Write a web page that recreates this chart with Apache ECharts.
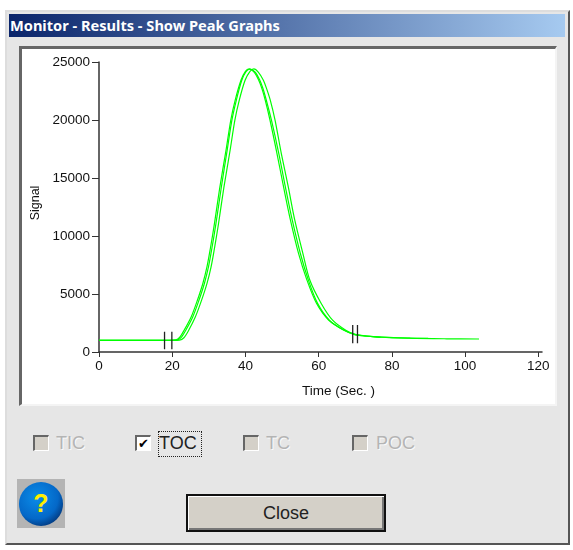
<!DOCTYPE html>
<html>
<head>
<meta charset="utf-8">
<style>
  html, body { margin: 0; padding: 0; background: #fff; }
  body { width: 573px; height: 550px; position: relative; overflow: hidden; font-family: "Liberation Sans", Arial, sans-serif; }
  .abs { position: absolute; box-sizing: border-box; }
  #dialog { left: 5px; top: 10px; width: 565px; height: 535px; background: #e6e6e6; border-top: 2px solid #ddd; border-left: 2px solid #ddd; border-right: 2px solid #555; border-bottom: 2px solid #555; }
  #titlebar { left: 9px; top: 14px; width: 556px; height: 23px; background: linear-gradient(to right, #0a246a, #a6caf0); color: #fff; font: bold 14.6px/23px "Noto Sans", sans-serif; padding-left: 1px; white-space: nowrap; }
  #panel { left: 19px; top: 46px; width: 538px; height: 360px; background: #fff; border-top: 3px solid #666; border-left: 3px solid #666; border-right: 2px solid #f4f4f4; border-bottom: 2px solid #f4f4f4; }
  #charts { left: 22px; top: 49px; width: 533px; height: 355px; }
  .box { width: 16px; height: 16px; top: 435px; background: #d4d0c8; border-top: 2px solid #666; border-left: 2px solid #666; border-right: 1px solid #fff; border-bottom: 1px solid #fff; }
  .box.on { background: #fff; color: #000; font: bold 13px/13px "DejaVu Sans", sans-serif; text-align: center; }
  .lbl { top: 433px; font-size: 18px; line-height: 20px; color: #b4b4b4; text-shadow: 1px 1px 0 #fafafa; white-space: nowrap; }
  .lbl.on { color: #222; text-shadow: none; }
  #focus { left: 158px; top: 431px; width: 44px; height: 26px; border: 1px dotted #222; }
  #help { left: 17px; top: 479px; width: 48px; height: 49px; background: #b4b4b4; }
  #helpdot { left: 19px; top: 482px; width: 44px; height: 44px; border-radius: 50%; background: radial-gradient(circle at 40% 35%, #0a8ce8 0%, #0468c8 55%, #023a80 78%, #000 95%); color: #ffee00; font: bold 25px/42px "Liberation Sans", sans-serif; text-align: center; }
  #close { left: 186px; top: 494px; width: 200px; height: 38px; background: #d4d0c8; border: 2px solid #111; box-shadow: inset 1px 1px 0 #fff, inset -2px -2px 0 #777; font-size: 18px; line-height: 34px; text-align: center; color: #222; }
</style>
</head>
<body>
<div class="abs" id="dialog"></div>
<div class="abs" id="titlebar">Monitor - Results - Show Peak Graphs</div>
<div class="abs" id="panel"></div>
<div class="abs" id="charts"></div>

<div class="abs box" style="left:33px"></div>
<div class="abs lbl" style="left:56px">TIC</div>
<div class="abs box on" style="left:135px">✔</div>
<div class="abs lbl on" style="left:159px">TOC</div>
<div class="abs" id="focus"></div>
<div class="abs box" style="left:243px"></div>
<div class="abs lbl" style="left:266px">TC</div>
<div class="abs box" style="left:352px"></div>
<div class="abs lbl" style="left:376px">POC</div>

<div class="abs" id="help"></div>
<div class="abs" id="helpdot">?</div>
<div class="abs" id="close">Close</div>

<script src="https://cdn.jsdelivr.net/npm/echarts@6/dist/echarts.min.js"></script>
<script>
var xTicks = [0, 20, 40, 60, 80, 100, 120];
var yTicks = [0, 5000, 10000, 15000, 20000, 25000];

// 三条峰曲线
var timeA = [0, 18, 21, 22, 23.3, 25.2, 26.9, 28.4, 29.5, 30.4, 31.5, 33, 34.7, 36, 37.2, 38.8, 40, 41, 42.3, 43.6, 44.5, 45.4, 46.7, 48.6, 50.4, 52.2, 54.5, 56.8, 59.4, 62.7, 66.8, 70, 73, 76.9];
var signalA = [1000, 1000, 1050, 1250, 1900, 3040, 4480, 5950, 7350, 8900, 11000, 14200, 17400, 20000, 21720, 23450, 24200, 24400, 24150, 23450, 22700, 21720, 20000, 17130, 14250, 11500, 8500, 6200, 4200, 2760, 1900, 1480, 1380, 1260];

var timeB = [0, 18, 21.3, 22.4, 23.7, 25.6, 27.3, 28.8, 29.9, 30.8, 31.9, 33.4, 35, 36.3, 37.5, 39, 40.2, 41.2, 42.6, 43.9, 44.8, 45.7, 47.1, 49.1, 50.9, 52.7, 55, 57.2, 59.7, 62.9, 66.8, 70, 75, 80, 85, 89.9];
var signalB = [1000, 1000, 1040, 1240, 1880, 3020, 4460, 5930, 7330, 8880, 10980, 14180, 17380, 19980, 21700, 23430, 24180, 24380, 24140, 23440, 22690, 21700, 19980, 17120, 14240, 11490, 8490, 6190, 4190, 2750, 1890, 1500, 1320, 1240, 1190, 1170];

var timeC = [0, 18, 22, 23.2, 24.5, 26.3, 28, 29.5, 30.6, 31.5, 32.6, 34.1, 35.8, 37.1, 38.3, 39.9, 41.2, 42.3, 43.5, 44.9, 45.8, 46.8, 48.1, 49.8, 51.7, 53.4, 55.7, 57.6, 60.7, 63.8, 67.4, 70, 76, 85, 95, 103.8];
var signalC = [1000, 1000, 1030, 1230, 1870, 3010, 4450, 5920, 7320, 8870, 10970, 14170, 17370, 19970, 21690, 23420, 24170, 24400, 24130, 23430, 22680, 21690, 19970, 17110, 14230, 11480, 8480, 6180, 4180, 2740, 1880, 1530, 1300, 1190, 1140, 1120];

// 积分标记 start/end of peak
var markTimes = [17.9, 19.9, 69.3, 70.6];
var markLow = [230, 230, 750, 750];
var markHigh = [1750, 1750, 2330, 2330];

function pairs(xs, ys) {
  return xs.map(function (x, i) { return [x, ys[i]]; });
}

var traces = [pairs(timeA, signalA), pairs(timeB, signalB), pairs(timeC, signalC)];

var series = traces.map(function (d) {
  return {
    type: 'line',
    data: d,
    smooth: 0.3,
    symbol: 'none',
    lineStyle: { color: '#00ff00', width: 1.2 }
  };
});

markTimes.forEach(function (t, i) {
  series.push({
    type: 'line',
    data: [[t, markLow[i]], [t, markHigh[i]]],
    symbol: 'none',
    lineStyle: { color: '#222', width: 1.3 }
  });
});

var myChart = echarts.init(document.getElementById('charts'));
myChart.setOption({
  animation: false,
  grid: { left: 77, top: 13, width: 443, height: 290, outerBoundsMode: 'none' },
  xAxis: {
    type: 'value',
    min: 0,
    max: 121,
    name: 'Time (Sec. )',
    nameLocation: 'middle',
    nameGap: 32,
    nameTextStyle: { color: '#111', fontSize: 13.5, fontFamily: 'Liberation Sans', padding: [0, 0, 0, 36] },
    splitLine: { show: false },
    axisLine: { onZero: false, lineStyle: { color: '#333', width: 1.5 } },
    axisTick: { length: 5, lineStyle: { color: '#333' }, customValues: xTicks },
    axisLabel: { color: '#111', fontSize: 13.5, fontFamily: 'Liberation Sans', margin: 7, customValues: xTicks }
  },
  yAxis: {
    type: 'value',
    min: 0,
    max: 25000,
    interval: 5000,
    name: 'Signal',
    nameLocation: 'middle',
    nameGap: 48,
    nameTextStyle: { color: '#111', fontSize: 12.5, fontFamily: 'Liberation Sans', padding: [0, 0, 8, 8] },
    splitLine: { show: false },
    axisLine: { show: true, lineStyle: { color: '#333', width: 1.5 } },
    axisTick: { show: true, length: 7, lineStyle: { color: '#333' }, customValues: yTicks },
    axisLabel: { color: '#111', fontSize: 13.5, fontFamily: 'Liberation Sans', margin: 9, customValues: yTicks, formatter: function (v) { return String(v); } }
  },
  series: series
});
</script>
</body>
</html>
